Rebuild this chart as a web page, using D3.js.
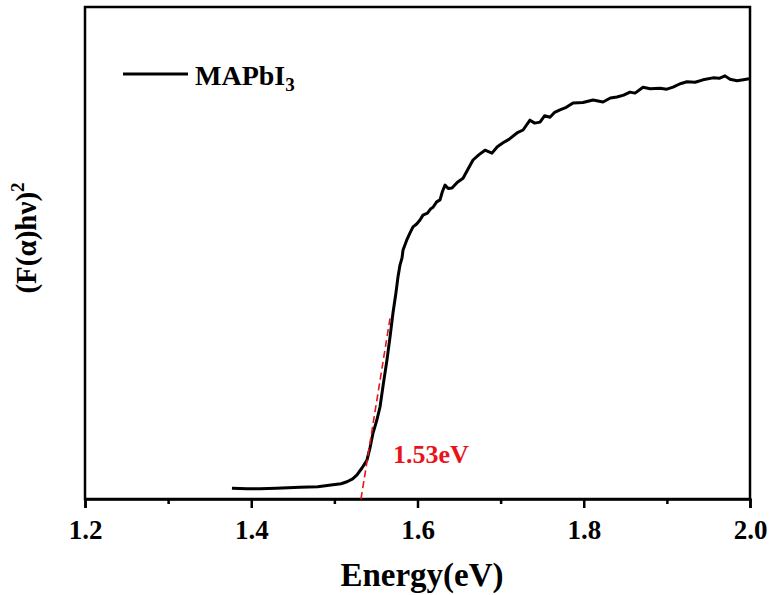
<!DOCTYPE html>
<html>
<head>
<meta charset="utf-8">
<script src="https://cdn.jsdelivr.net/npm/d3@7"></script>
<style>
  body { margin: 0; background: #fff; }
  text { font-family: "Times New Roman", "Liberation Serif", serif; font-weight: bold; }
</style>
</head>
<body>
<div id="chart"></div>
<script>
// energy (eV) of each sample point
var energy = [1.3768, 1.3950, 1.4105, 1.4300, 1.4586, 1.4800, 1.4983, 1.5080, 1.5152, 1.5220, 1.5272,
    1.5332, 1.5392, 1.5430, 1.5465, 1.5510, 1.5549, 1.5590, 1.5633, 1.5670, 1.5705, 1.5740, 1.5765,
    1.5790, 1.5814, 1.5826, 1.5870, 1.5910, 1.5946, 1.5990, 1.6030, 1.6066, 1.6120, 1.6160, 1.6187,
    1.6230, 1.6271, 1.6300, 1.6331, 1.6370, 1.6415, 1.6480, 1.6548, 1.6600, 1.6668, 1.6740, 1.6812,
    1.6896, 1.6960, 1.7029, 1.7100, 1.7197, 1.7270, 1.7353, 1.7410, 1.7474, 1.7530, 1.7594, 1.7650,
    1.7714, 1.7790, 1.7871, 1.7990, 1.8112, 1.8232, 1.8320, 1.8400, 1.8480, 1.8556, 1.8617, 1.8713,
    1.8800, 1.8917, 1.9000, 1.9074, 1.9160, 1.9242, 1.9340, 1.9435, 1.9555, 1.9630, 1.9699, 1.9760,
    1.9844, 1.9920, 1.9988];
// (F(α)hν)^2, arbitrary units (0 = axis, 100 = top of frame)
var absorb = [2.2, 2.1, 2.1, 2.2, 2.4, 2.5, 2.9, 3.1, 3.5, 4.1, 4.9,
    6.3, 7.9, 10.5, 13.4, 16.0, 18.7, 23.5, 28.3, 33.0, 37.8, 41.8, 45.1,
    47.6, 49.0, 50.6, 52.6, 54.1, 55.3, 55.9, 56.7, 57.7, 58.1, 59.0, 59.3,
    60.4, 60.8, 62.5, 63.8, 63.1, 63.2, 64.4, 65.2, 66.8, 68.9, 70.0, 70.9,
    70.3, 71.6, 72.4, 73.1, 74.4, 75.0, 77.0, 76.4, 76.6, 77.9, 77.6, 78.6,
    79.1, 79.6, 80.5, 80.6, 81.1, 80.7, 81.5, 81.7, 82.1, 82.7, 82.5, 83.7,
    83.4, 83.5, 83.3, 83.7, 84.4, 84.8, 84.7, 85.2, 85.6, 85.5, 86.0, 85.3,
    85.0, 85.2, 85.4];
var xTicks = [1.2, 1.4, 1.6, 1.8, 2.0];
var xMinor = [1.3, 1.5, 1.7, 1.9];
var gapFit = [[1.532, 0], [1.567, 36.8]];
var gapLabel = '1.53eV';
var seriesName = 'MAPbI';

var margin = { top: 7, left: 85, right: 24, bottom: 96 };
var W = 774, H = 595;
var svg = d3.select('#chart').append('svg').attr('width', W).attr('height', H);

var x = d3.scaleLinear().domain([1.2, 2.0]).range([margin.left, W - margin.right]);
var y = d3.scaleLinear().domain([0, 100]).range([H - margin.bottom, margin.top]);

// frame
svg.append('rect')
    .attr('x', x(1.2)).attr('y', y(100))
    .attr('width', x(2.0) - x(1.2)).attr('height', y(0) - y(100))
    .attr('fill', 'none').attr('stroke', '#000').attr('stroke-width', 2.5);

// bottom axis
var xAxis = svg.append('g')
    .attr('transform', 'translate(0,' + y(0) + ')')
    .call(d3.axisBottom(x).tickValues(xTicks).tickSize(9).tickPadding(12)
        .tickFormat(d3.format('.1f')));
xAxis.select('.domain').attr('stroke-width', 2.5);
xAxis.selectAll('.tick line').attr('stroke-width', 2.5);
xAxis.selectAll('.tick text')
    .style('font-size', '27px')
    .style('font-family', 'Liberation Serif, serif')
    .style('font-weight', 'bold')
    .attr('fill', '#000');

svg.append('g')
    .attr('transform', 'translate(0,' + y(0) + ')')
    .call(d3.axisBottom(x).tickValues(xMinor).tickSize(5).tickFormat(''))
    .call(function (g) { g.select('.domain').remove(); })
    .selectAll('.tick line').attr('stroke-width', 2.5);

// curve
var pts = energy.map(function (e, i) { return [e, absorb[i]]; });
var line = d3.line()
    .x(function (d) { return x(d[0]); })
    .y(function (d) { return y(d[1]); })
    .curve(d3.curveLinear);
svg.append('path')
    .datum(pts)
    .attr('d', line)
    .attr('fill', 'none')
    .attr('stroke', '#000')
    .attr('stroke-width', 3)
    .attr('stroke-linejoin', 'round');

// band gap tangent
svg.append('path')
    .datum(gapFit)
    .attr('d', line)
    .attr('stroke', '#e8141b')
    .attr('stroke-width', 1.6)
    .attr('stroke-dasharray', '7,4');

svg.append('text')
    .attr('x', 393).attr('y', 463)
    .attr('font-size', 26)
    .attr('fill', '#e8141b')
    .text(gapLabel);

// legend
svg.append('line')
    .attr('x1', 123).attr('x2', 188).attr('y1', 74).attr('y2', 74)
    .attr('stroke', '#000').attr('stroke-width', 3);
var lg = svg.append('text').attr('x', 195).attr('y', 85).attr('font-size', 28);
lg.append('tspan').text(seriesName);
lg.append('tspan').attr('font-size', 19).attr('dy', 6).text('3');

// axis titles
svg.append('text')
    .attr('x', 422).attr('y', 586)
    .attr('text-anchor', 'middle')
    .attr('font-size', 33)
    .text('Energy(eV)');

var yl = svg.append('text')
    .attr('transform', 'translate(36,238) rotate(-90)')
    .attr('text-anchor', 'middle')
    .attr('font-size', 29);
yl.append('tspan').text('(F(α)hν)');
yl.append('tspan').attr('font-size', 19).attr('dy', -12).text('2');
</script>
</body>
</html>
